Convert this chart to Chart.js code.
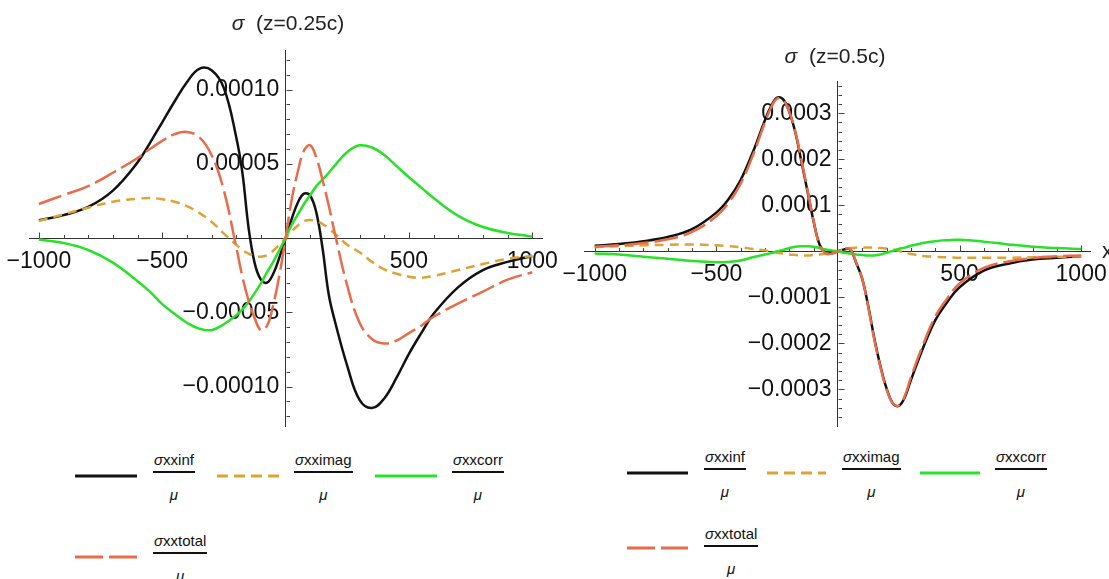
<!DOCTYPE html>
<html><head><meta charset="utf-8">
<script src="https://cdn.jsdelivr.net/npm/chart.js@4.4.1/dist/chart.umd.min.js"></script>
<style>
html,body{margin:0;padding:0;background:#fff;}
#wrap{position:relative;width:1109px;height:579px;overflow:hidden;background:#fff;}
canvas{position:absolute;top:0;}
#cL{left:0;} #cR{left:560px;}
.title{position:absolute;transform:translate(-50%,-50%);white-space:nowrap;font-family:"Liberation Sans",Arial,sans-serif;font-size:21px;color:#222;}
.frac{position:absolute;text-align:center;color:#111;white-space:nowrap;}
.num{display:block;border-bottom:2px solid #111;padding:0 1px 2px;line-height:18px;}
.den{display:block;line-height:18px;margin-top:13px;}
svg.samp{position:absolute;overflow:visible;}
#xlab{position:absolute;left:1102px;top:238px;font-family:"Liberation Sans",Arial,sans-serif;font-size:22px;color:#222;}
</style></head>
<body><div id="wrap">
<canvas id="cL" width="560" height="440"></canvas>
<canvas id="cR" width="549" height="440"></canvas>
<div id="xlab">x</div>
</div>
<script>
// ---------------- data ----------------
const SCALE_L = 1e-5;   // left chart values are given in units of 1e-5
const SCALE_R = 1e-4;   // right chart values are given in units of 1e-4

const xL = [-1000,-900,-800,-700,-600,-550,-500,-450,-400,-350,-300,-250,-200,-175,-150,-125,-100,-75,-50,-25,0,25,50,75,100,125,150,175,200,250,300,350,400,450,500,550,600,700,800,900,1000];
const infL   = [1.2,1.55,2.1,3.2,5.1,6.4,7.8,9.2,10.5,11.4,11.3,10.1,6.8,4.4,0.7,-1.7,-2.8,-3.0,-2.4,-1.3,0,1.3,2.4,3.0,2.85,1.7,-0.7,-3.8,-5.6,-8.6,-10.9,-11.45,-10.8,-9.4,-7.8,-6.4,-5.1,-3.3,-2.15,-1.6,-1.2];
const imagL  = [1.15,1.6,2.05,2.45,2.65,2.7,2.62,2.45,2.15,1.7,1.1,0.3,-0.45,-0.8,-1.05,-1.2,-1.25,-1.15,-0.85,-0.45,0,0.45,0.85,1.15,1.22,1.15,0.95,0.65,0.3,-0.45,-0.95,-1.6,-2.1,-2.4,-2.6,-2.67,-2.55,-2.15,-1.75,-1.4,-1.2];
const corrL  = [-0.1,-0.33,-0.8,-1.65,-2.9,-3.6,-4.45,-5.1,-5.7,-6.1,-6.2,-5.8,-5.2,-4.8,-4.3,-3.7,-3.05,-2.3,-1.6,-0.8,0,0.9,1.6,2.3,2.9,3.5,3.95,4.4,4.9,5.8,6.25,6.1,5.6,4.85,4.1,3.4,2.7,1.5,0.75,0.35,0.1];
const totalL = [2.3,2.9,3.5,4.4,5.4,6.0,6.55,7.0,7.15,6.8,5.6,3.2,-0.6,-2.6,-4.2,-5.4,-6.2,-5.9,-4.5,-2.5,0,2.6,4.5,5.9,6.25,5.4,3.9,2.2,0.3,-3.2,-5.7,-6.8,-7.1,-6.9,-6.4,-5.9,-5.3,-4.4,-3.6,-2.8,-2.3];

const xR = [-1000,-900,-800,-700,-600,-500,-450,-400,-350,-300,-275,-250,-225,-200,-175,-150,-125,-100,-75,-50,-25,0,25,50,75,100,125,150,175,200,225,250,275,300,350,400,450,500,600,700,800,900,1000];
const infR   = [0.12,0.16,0.22,0.31,0.48,0.84,1.13,1.55,2.15,2.85,3.15,3.34,3.3,3.03,2.58,1.95,1.3,0.65,0.14,-0.03,-0.04,0,0.04,0.04,-0.25,-0.6,-1.2,-1.9,-2.5,-2.98,-3.3,-3.36,-3.17,-2.8,-2.1,-1.5,-1.1,-0.78,-0.42,-0.27,-0.18,-0.14,-0.11];
const imagR  = [0.09,0.11,0.13,0.14,0.15,0.13,0.11,0.09,0.05,0.02,-0.01,-0.03,-0.05,-0.07,-0.08,-0.09,-0.09,-0.08,-0.07,-0.05,-0.02,0,0.04,0.07,0.08,0.08,0.08,0.08,0.07,0.06,0.04,0.01,-0.03,-0.06,-0.1,-0.12,-0.13,-0.14,-0.14,-0.14,-0.13,-0.12,-0.11];
const corrR  = [-0.05,-0.07,-0.12,-0.16,-0.21,-0.24,-0.23,-0.2,-0.13,-0.07,-0.04,0.0,0.03,0.07,0.1,0.11,0.11,0.1,0.07,0.04,0.02,0,-0.03,-0.05,-0.07,-0.08,-0.09,-0.09,-0.07,-0.03,0.01,0.05,0.08,0.12,0.18,0.22,0.24,0.25,0.21,0.15,0.1,0.07,0.05];
const totalR = [0.1,0.13,0.18,0.26,0.42,0.76,1.05,1.47,2.08,2.8,3.12,3.32,3.29,3.03,2.6,1.98,1.33,0.66,0.12,-0.05,-0.05,0,0.05,0.05,-0.24,-0.6,-1.22,-1.93,-2.52,-3.0,-3.3,-3.35,-3.14,-2.74,-2.03,-1.42,-1.02,-0.7,-0.36,-0.22,-0.15,-0.11,-0.09];

const xTickVals   = [-1000,-500,500,1000];
const xTickLabels = ['\u22121000','\u2212500','500','1000'];
const yTickValsL   = [-0.0001,-0.00005,0.00005,0.0001];
const yTickLabelsL = ['\u22120.00010','\u22120.00005','0.00005','0.00010'];
const yTickValsR   = [-0.0003,-0.0002,-0.0001,0.0001,0.0002,0.0003];
const yTickLabelsR = ['\u22120.0003','\u22120.0002','\u22120.0001','0.0001','0.0002','0.0003'];

const seriesNames = ['\u03c3xxinf','\u03c3xximag','\u03c3xxcorr','\u03c3xxtotal'];
const titleTexts  = ['(z=0.25c)','(z=0.5c)'];

// ---------------- styling ----------------
const COLORS = ['#111111','rgb(222,163,52)','rgb(40,225,40)','rgb(232,108,74)'];
const DASHES = [[],[9,6],[],[24,6]];
const LEG_DASHES = [[],[11,6],[],[28,6]];
const ORDERS = [4,3,2,1];

function hasFont(name){
  const c=document.createElement('canvas').getContext('2d');
  const t='0.00010 \u03c3xxinf mmm';
  c.font='40px monospace'; const a=c.measureText(t).width;
  c.font='40px "'+name+'", monospace'; const b=c.measureText(t).width;
  return Math.abs(a-b)>0.5;
}
const NARROW = hasFont('Liberation Sans Narrow');
const tickFont = NARROW ? {family:'"Liberation Sans Narrow"', size:26} : {family:'"Liberation Sans", Arial, sans-serif', size:23};
const legFamily = NARROW ? '"Liberation Sans Narrow", sans-serif' : '"Liberation Sans", Arial, sans-serif';
const legSize = NARROW ? 18 : 15;

const tickMarks = {
  id:'tickMarks',
  beforeDatasetsDraw(chart, args, o){
    const ctx=chart.ctx, xs=chart.scales.x, ys=chart.scales.y;
    const x0=Math.round(xs.getPixelForValue(0))+0.5, y0=Math.round(ys.getPixelForValue(0))+0.5;
    ctx.save(); ctx.strokeStyle='#444'; ctx.lineWidth=1; ctx.beginPath();
    for(let k=-o.xCount;k<=o.xCount;k++){ if(!k) continue;
      const px=Math.round(xs.getPixelForValue(k*o.xStep))+0.5; const len=(k%o.every===0)?6:3.5;
      ctx.moveTo(px,y0); ctx.lineTo(px,y0-len); }
    for(let k=-o.yCount;k<=o.yCount;k++){ if(!k) continue;
      const py=Math.round(ys.getPixelForValue(k*o.yStep))+0.5; const len=(k%o.every===0)?6:3.5;
      ctx.moveTo(x0,py); ctx.lineTo(x0+len,py); }
    ctx.stroke(); ctx.restore();
  }
};

function makeChart(id, xs, series, scale, yMin, yMax, yVals, yLabels, pad, tm){
  const datasets = series.map((vals,i)=>({
    label: seriesNames[i],
    data: xs.map((x,j)=>({x:x, y:vals[j]*scale})),
    borderColor: COLORS[i], borderWidth: 2.5, borderDash: DASHES[i], borderCapStyle:'butt',
    pointRadius: 0, fill:false, tension:0.4, order: ORDERS[i]
  }));
  return new Chart(document.getElementById(id), {
    type:'line',
    data:{datasets},
    plugins:[tickMarks],
    options:{
      responsive:false, animation:false, devicePixelRatio:1,
      layout:{padding:pad},
      events:[],
      plugins:{legend:{display:false}, title:{display:false}, tooltip:{enabled:false}, tickMarks:tm},
      scales:{
        x:{type:'linear', min:-1040, max:1040, position:{y:0},
           grid:{display:false}, border:{display:true, color:'#333', width:1},
           afterBuildTicks:(s)=>{ s.ticks = xTickVals.map(v=>({value:v})); },
           ticks:{autoSkip:false, maxRotation:0, padding:2, color:'#111', font:tickFont,
                  callback:(v,i)=>xTickLabels[i]}},
        y:{type:'linear', min:yMin, max:yMax, position:{x:0},
           grid:{display:false}, border:{display:true, color:'#333', width:1},
           afterBuildTicks:(s)=>{ s.ticks = yVals.map(v=>({value:v})); },
           ticks:{autoSkip:false, padding:0, color:'#111', font:tickFont,
                  callback:(v,i)=>yLabels[i]+' '}}
      }
    }
  });
}

makeChart('cL', xL, [infL,imagL,corrL,totalL], SCALE_L, -0.0001267, 0.0001267, yTickValsL, yTickLabelsL,
  {left:29, right:8, top:50, bottom:10}, {xStep:100, xCount:10, yStep:0.00001, yCount:12, every:5});
makeChart('cR', xR, [infR,imagR,corrR,totalR], SCALE_R, -0.00038, 0.00037, yTickValsR, yTickLabelsR,
  {left:22, right:17, top:81, bottom:7}, {xStep:100, xCount:10, yStep:0.00002, yCount:18, every:5});

// ---------------- titles & legends (HTML text) ----------------
const wrap=document.getElementById('wrap');
[[288,23],[835,56]].forEach((p,i)=>{
  const d=document.createElement('div'); d.className='title';
  d.style.left=p[0]+'px'; d.style.top=p[1]+'px';
  d.innerHTML='<i>\u03c3</i>&nbsp; '+titleTexts[i];
  wrap.appendChild(d);
});
const legendPos = [
  [{s:[75,137],sy:476,lx:153,ty:451},{s:[217,279],sy:476,lx:294,ty:451},{s:[375,437],sy:476,lx:452,ty:451},{s:[75,137],sy:557,lx:153,ty:532}],
  [{s:[627,688],sy:473,lx:704,ty:448},{s:[767,826],sy:473,lx:842,ty:448},{s:[920,980],sy:473,lx:995,ty:448},{s:[627,688],sy:548,lx:704,ty:525}]
];
legendPos.forEach(items=>{
  items.forEach((it,i)=>{
    const w=it.s[1]-it.s[0];
    const svg=document.createElementNS('http://www.w3.org/2000/svg','svg');
    svg.setAttribute('class','samp'); svg.setAttribute('width',w); svg.setAttribute('height',6);
    svg.style.left=it.s[0]+'px'; svg.style.top=(it.sy-3)+'px';
    const ln=document.createElementNS('http://www.w3.org/2000/svg','line');
    ln.setAttribute('x1',0); ln.setAttribute('y1',3); ln.setAttribute('x2',w); ln.setAttribute('y2',3);
    ln.setAttribute('stroke',COLORS[i]); ln.setAttribute('stroke-width',3);
    if(LEG_DASHES[i].length) ln.setAttribute('stroke-dasharray',LEG_DASHES[i].join(' '));
    svg.appendChild(ln); wrap.appendChild(svg);
    const f=document.createElement('div'); f.className='frac';
    f.style.left=it.lx+'px'; f.style.top=it.ty+'px';
    f.style.fontFamily=legFamily; f.style.fontSize=legSize+'px';
    const nm=seriesNames[i];
    f.innerHTML='<span class="num"><i>'+nm.charAt(0)+'</i>'+nm.slice(1)+'</span><span class="den"><i>\u03bc</i></span>';
    wrap.appendChild(f);
  });
});
</script>
</body></html>
